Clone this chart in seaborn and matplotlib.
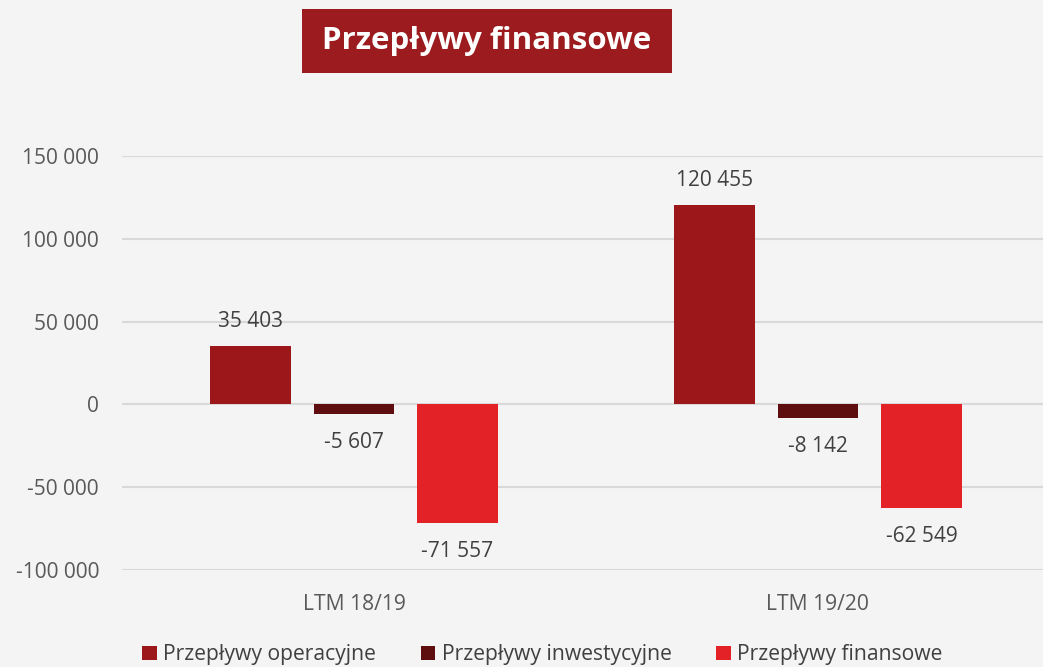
import matplotlib
matplotlib.use("Agg")
import matplotlib.pyplot as plt
import seaborn as sns
import pandas as pd
from matplotlib.patches import Rectangle, Patch

categories = ["LTM 18/19", "LTM 19/20"]
series = ["Przepływy operacyjne", "Przepływy inwestycyjne", "Przepływy finansowe"]
operacyjne = [35403, 120455]
inwestycyjne = [-5607, -8142]
finansowe = [-71557, -62549]
colors = ["#9B1719", "#5E0E0E", "#E32228"]
yticks = [-100000, -50000, 0, 50000, 100000, 150000]
title = "Przepływy finansowe"

rows = []
for s, vals in zip(series, [operacyjne, inwestycyjne, finansowe]):
    for c, v in zip(categories, vals):
        rows.append({"cat": c, "series": s, "value": v})
df = pd.DataFrame(rows)

sns.set_theme(style="white")
plt.rcParams["font.family"] = ["Open Sans", "DejaVu Sans"]

W, H = 1043, 667
fig = plt.figure(figsize=(W / 100, H / 100), dpi=100)
bg = "#f4f4f4"
fig.patch.set_facecolor(bg)

def fx(px):
    return px / W

def fy(py):
    return 1 - py / H

ax = fig.add_axes([fx(122), fy(570), fx(1050) - fx(122), fy(156) - fy(570)])
ax.set_facecolor("none")

sns.barplot(data=df, x="cat", y="value", hue="series", order=categories,
            hue_order=series, palette=colors, width=0.669, gap=0.22,
            saturation=1, ax=ax, legend=False, errorbar=None, linewidth=0)

ax.set_xlim(-0.5, 1.5)
ax.set_ylim(-100000, 150000)
ax.set_yticks(yticks)
ax.set_yticklabels([f"{v:,}".replace(",", " ") for v in yticks])
ax.yaxis.grid(True, color="#d9d9d9", linewidth=1.5)
ax.set_axisbelow(True)
for sp in ax.spines.values():
    sp.set_visible(False)
ax.tick_params(axis="y", length=0, pad=16.5, labelsize=15, labelcolor="#595959")
ax.tick_params(axis="x", length=0, pad=17, labelsize=15.2, labelcolor="#595959")
ax.set_xlabel("")
ax.set_ylabel("")

for cont in ax.containers:
    for b in cont:
        h = b.get_height()
        txt = f"{int(round(h)):,}".replace(",", " ")
        x = b.get_x() + b.get_width() / 2
        if h >= 0:
            ax.annotate(txt, (x, h), xytext=(0, 10), textcoords="offset points",
                        ha="center", va="bottom", fontsize=15, color="#404040",
                        annotation_clip=False)
        else:
            ax.annotate(txt, (x, h), xytext=(0, -13), textcoords="offset points",
                        ha="center", va="top", fontsize=15, color="#404040",
                        annotation_clip=False)

handles = [Patch(facecolor=c, edgecolor="none") for c in colors]
fig.legend(handles, series, loc="lower center", bbox_to_anchor=(0.52, -0.026), ncol=3,
           frameon=False, fontsize=15.2, handlelength=0.7, handleheight=0.7,
           handletextpad=0.3, columnspacing=2.1, labelcolor="#404040")

fig.patches.append(Rectangle((fx(302), fy(73)), fx(672) - fx(302), fy(9) - fy(73),
                             transform=fig.transFigure, facecolor="#9B1B1E",
                             edgecolor="none", zorder=5))
fig.text(fx(487), fy(41), title, ha="center", va="center", color="white",
         fontsize=22.5, fontweight="bold", zorder=6)

fig.savefig("out.png", dpi=100, facecolor=bg)
